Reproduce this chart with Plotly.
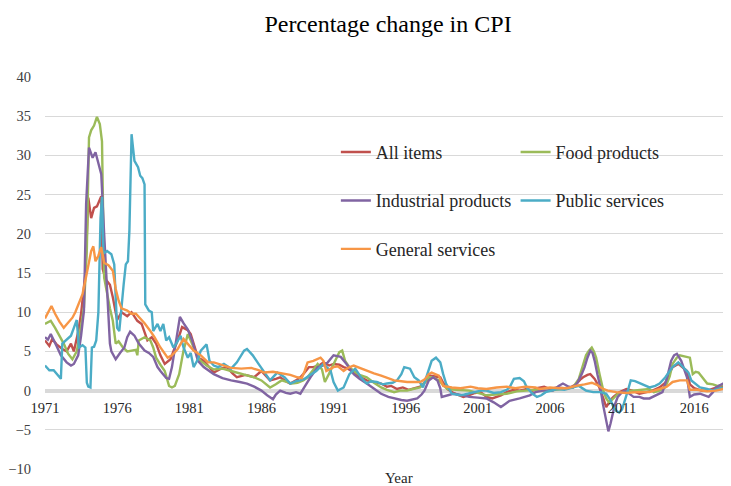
import plotly.graph_objects as go

# ---------------- data (decimal year, % change) ----------------
all_items_t = [1971.0, 1971.3, 1971.5, 1971.8, 1972.2, 1972.5, 1972.8, 1973.0, 1973.3, 1973.5, 1973.8, 1974.0, 1974.2, 1974.4, 1974.6, 1974.9, 1975.0, 1975.2, 1975.5, 1975.7, 1976.0, 1976.3, 1976.7, 1977.0, 1977.4, 1977.7, 1978.1, 1978.4, 1978.7, 1979.0, 1979.3, 1979.7, 1980.0, 1980.2, 1980.5, 1980.9, 1981.1, 1981.3, 1981.6, 1982.0, 1982.4, 1982.7, 1983.2, 1983.6, 1984.0, 1984.3, 1984.9, 1985.5, 1986.0, 1986.3, 1986.6, 1987.0, 1987.3, 1987.7, 1988.0, 1988.4, 1988.7, 1989.0, 1989.3, 1989.6, 1990.0, 1990.3, 1990.7, 1991.0, 1991.4, 1991.7, 1992.0, 1992.4, 1992.8, 1993.3, 1993.8, 1994.3, 1994.7, 1995.0, 1995.4, 1995.8, 1996.2, 1996.6, 1997.0, 1997.3, 1997.6, 1997.7, 1998.0, 1998.4, 1998.6, 1998.9, 1999.3, 1999.6, 2000.0, 2000.5, 2000.8, 2001.2, 2001.6, 2002.0, 2002.6, 2003.0, 2003.5, 2003.9, 2004.4, 2004.8, 2005.1, 2005.6, 2006.0, 2006.5, 2007.0, 2007.4, 2007.8, 2008.1, 2008.3, 2008.6, 2008.8, 2009.1, 2009.4, 2009.7, 2009.9, 2010.2, 2010.4, 2010.8, 2011.3, 2011.7, 2012.2, 2012.7, 2013.1, 2013.6, 2014.0, 2014.3, 2014.5, 2014.9, 2015.2, 2015.5, 2015.7, 2016.0, 2016.5, 2016.9, 2017.4, 2017.9, 2018.3, 2018.55]
all_items_v = [6.4, 5.7, 6.6, 5.9, 5.3, 5.0, 6.0, 5.0, 7.5, 9.8, 15.0, 24.6, 22.0, 23.3, 23.5, 24.8, 15.5, 14.2, 13.5, 11.9, 9.0, 10.0, 9.5, 10.0, 8.9, 8.5, 6.4, 6.8, 6.0, 4.5, 3.4, 4.0, 5.5, 6.4, 8.1, 7.7, 7.2, 6.0, 4.2, 3.8, 3.0, 2.3, 2.8, 3.0, 2.2, 1.7, 2.0, 1.7, 2.5, 1.9, 1.3, 1.5, 1.7, 1.2, 0.9, 1.3, 1.7, 2.3, 3.0, 3.0, 3.2, 3.6, 3.2, 3.4, 3.3, 3.0, 2.8, 2.3, 1.8, 1.3, 1.1, 0.9, 0.5, 0.6, 0.2, 0.4, 0.1, 0.3, 0.5, 1.0, 1.5, 1.9, 1.8, 1.7, 1.0, 0.2, -0.3, -0.5, -0.8, -0.5, -0.3, -0.2, -0.8, -1.0, -0.6, -0.2, 0.1, 0.0, 0.2, 0.0, 0.3, 0.5, 0.2, 0.4, 0.3, 0.4, 0.8, 1.4, 1.7, 2.0, 2.1, 1.5, 0.5, -1.0, -2.1, -1.2, -0.8, -0.2, 0.2, 0.0, -0.4, -0.2, 0.0, 0.4, 1.0, 2.3, 3.0, 3.4, 2.9, 2.5, 0.8, 0.3, 0.0, 0.0, 0.3, 0.5, 0.9, 1.1]

food_t = [1971.0, 1971.2, 1971.4, 1971.7, 1972.0, 1972.3, 1972.6, 1972.9, 1973.2, 1973.4, 1973.7, 1973.9, 1974.05, 1974.2, 1974.4, 1974.6, 1974.8, 1974.95, 1975.1, 1975.3, 1975.5, 1975.7, 1975.9, 1976.1, 1976.4, 1976.7, 1977.0, 1977.3, 1977.4, 1977.5, 1977.9, 1978.3, 1978.5, 1978.7, 1979.0, 1979.3, 1979.6, 1979.8, 1980.0, 1980.3, 1980.6, 1980.9, 1981.1, 1981.3, 1981.6, 1981.8, 1982.2, 1982.7, 1983.3, 1983.9, 1984.5, 1985.0, 1985.5, 1986.0, 1986.3, 1986.6, 1987.0, 1987.4, 1987.8, 1988.1, 1988.5, 1988.9, 1989.2, 1989.5, 1989.9, 1990.2, 1990.4, 1990.7, 1991.0, 1991.2, 1991.4, 1991.6, 1991.8, 1992.1, 1992.4, 1992.8, 1993.3, 1993.8, 1994.3, 1994.7, 1995.2, 1995.6, 1996.1, 1996.5, 1997.0, 1997.3, 1997.6, 1997.9, 1998.3, 1998.6, 1998.9, 1999.5, 2000.0, 2000.4, 2001.0, 2001.6, 2002.2, 2003.0, 2003.7, 2004.4, 2005.0, 2005.5, 2006.0, 2006.8, 2007.3, 2007.6, 2008.0, 2008.3, 2008.5, 2008.7, 2008.9, 2009.05, 2009.2, 2009.45, 2009.7, 2009.9, 2010.1, 2010.4, 2010.7, 2011.2, 2011.8, 2012.4, 2012.9, 2013.2, 2013.6, 2014.0, 2014.3, 2014.5, 2014.8, 2015.0, 2015.4, 2015.7, 2015.9, 2016.1, 2016.3, 2016.6, 2016.9, 2017.3, 2017.6, 2018.0, 2018.55]
food_v = [8.5, 8.7, 8.9, 8.0, 7.0, 6.0, 4.7, 4.0, 5.0, 7.0, 10.6, 18.0, 32.3, 33.2, 33.8, 34.9, 34.0, 31.8, 14.4, 12.3, 10.5, 8.9, 6.0, 6.3, 5.5, 5.0, 5.1, 5.2, 4.5, 6.4, 6.8, 6.4, 5.5, 4.2, 3.3, 2.5, 0.6, 0.4, 0.6, 2.1, 5.1, 7.2, 6.4, 5.5, 4.2, 3.8, 3.2, 2.7, 2.8, 2.5, 2.2, 1.9, 1.7, 1.3, 0.9, 0.4, 0.8, 1.3, 1.1, 0.9, 1.0, 1.3, 1.7, 2.5, 3.4, 2.7, 1.1, 2.2, 3.4, 4.3, 4.9, 5.1, 3.8, 3.0, 2.5, 2.0, 1.7, 1.0, 0.4, 0.1, -0.2, 0.0, 0.0, 0.2, 0.4, 1.0, 1.7, 1.7, 1.3, 0.7, 0.2, 0.1, 0.0, 0.0, -0.3, -0.6, -0.5, -0.4, -0.1, 0.0, 0.1, 0.0, 0.0, 0.2, 0.3, 0.4, 1.5, 3.4, 4.5, 5.1, 5.5, 5.0, 4.2, 2.0, 0.0, -1.0, -1.5, -1.0, -0.4, -0.1, 0.0, 0.1, 0.2, -0.2, 0.0, 0.4, 1.8, 3.4, 4.2, 4.5, 4.3, 4.2, 2.1, 2.4, 2.3, 1.6, 0.9, 0.8, 0.6, 0.7, 0.8]

industrial_t = [1971.0, 1971.2, 1971.4, 1971.6, 1971.8, 1972.1, 1972.5, 1972.8, 1973.0, 1973.3, 1973.5, 1973.7, 1973.85, 1974.05, 1974.3, 1974.5, 1974.7, 1974.9, 1975.1, 1975.3, 1975.5, 1975.6, 1975.9, 1976.2, 1976.5, 1976.7, 1976.9, 1977.2, 1977.5, 1977.9, 1978.2, 1978.5, 1978.8, 1979.0, 1979.4, 1979.6, 1979.8, 1980.1, 1980.35, 1980.6, 1980.9, 1981.2, 1981.6, 1982.0, 1982.7, 1983.3, 1983.9, 1984.5, 1985.0, 1985.5, 1986.0, 1986.4, 1986.8, 1987.0, 1987.3, 1987.7, 1988.0, 1988.4, 1988.7, 1989.0, 1989.4, 1989.9, 1990.3, 1990.6, 1991.0, 1991.5, 1991.9, 1992.4, 1992.8, 1993.3, 1993.8, 1994.3, 1994.8, 1995.2, 1995.7, 1996.1, 1996.5, 1996.8, 1997.1, 1997.3, 1997.6, 1997.9, 1998.2, 1998.4, 1998.5, 1998.9, 1999.3, 2000.0, 2000.4, 2001.0, 2001.6, 2002.1, 2002.6, 2002.9, 2003.2, 2003.9, 2004.6, 2005.0, 2005.5, 2006.2, 2006.6, 2006.9, 2007.3, 2007.6, 2007.9, 2008.2, 2008.4, 2008.6, 2008.8, 2008.95, 2009.1, 2009.3, 2009.5, 2009.65, 2009.8, 2009.95, 2010.05, 2010.2, 2010.35, 2010.5, 2010.7, 2011.0, 2011.2, 2011.5, 2011.8, 2012.2, 2012.5, 2012.9, 2013.3, 2013.8, 2014.1, 2014.4, 2014.6, 2014.8, 2015.1, 2015.3, 2015.5, 2015.7, 2016.0, 2016.4, 2016.7, 2017.0, 2017.3, 2017.5, 2018.0, 2018.55]
industrial_v = [6.8, 6.5, 7.2, 6.5, 5.7, 4.5, 3.6, 3.2, 3.4, 4.5, 7.0, 10.2, 23.8, 31.0, 29.7, 30.4, 29.0, 27.6, 20.0, 12.0, 6.0, 5.0, 4.0, 4.8, 5.5, 6.8, 7.5, 7.0, 6.0, 5.1, 4.8, 4.3, 3.0, 2.5, 1.6, 1.5, 3.0, 6.5, 9.4, 8.6, 7.8, 6.4, 3.8, 3.0, 2.1, 1.6, 1.3, 1.1, 0.9, 0.5, 0.0, -0.6, -1.1, -0.5, 0.0, -0.3, -0.4, -0.2, -0.4, 0.5, 1.7, 3.0, 3.2, 3.6, 4.5, 4.3, 3.4, 2.1, 1.5, 0.9, 0.2, -0.4, -0.8, -1.0, -1.2, -1.3, -1.1, -1.0, -0.5, 0.0, 1.3, 1.7, 1.3, 0.3, -0.8, -0.6, -0.4, -0.6, -0.8, -0.9, -1.0, -1.5, -2.1, -1.7, -1.3, -1.0, -0.6, -0.2, 0.0, 0.0, 0.6, 0.9, 0.5, 0.4, 1.0, 2.1, 3.0, 4.2, 5.1, 4.8, 3.8, 2.0, 0.4, -1.5, -3.0, -4.5, -5.2, -4.2, -3.0, -1.8, -0.8, -0.2, 0.0, -0.4, -0.8, -0.8, -1.0, -1.0, -0.6, -0.2, 1.5, 3.8, 4.5, 4.7, 3.8, 2.8, 1.7, -0.8, -0.5, -0.4, -0.6, -0.8, -0.2, 0.4, 0.9, 1.3]

public_t = [1971.0, 1971.3, 1971.6, 1971.9, 1972.0, 1972.1, 1972.2, 1972.5, 1972.8, 1973.0, 1973.2, 1973.35, 1973.6, 1973.8, 1973.9, 1974.0, 1974.15, 1974.25, 1974.4, 1974.55, 1974.7, 1974.85, 1974.95, 1975.05, 1975.3, 1975.6, 1975.8, 1975.9, 1976.0, 1976.15, 1976.3, 1976.45, 1976.6, 1976.75, 1976.85, 1977.0, 1977.1, 1977.2, 1977.45, 1977.6, 1977.75, 1977.9, 1977.95, 1978.2, 1978.4, 1978.5, 1978.8, 1979.0, 1979.2, 1979.4, 1979.6, 1979.9, 1980.1, 1980.4, 1980.6, 1980.9, 1981.1, 1981.3, 1981.6, 1981.8, 1982.2, 1982.4, 1982.7, 1983.0, 1983.4, 1983.9, 1984.3, 1984.6, 1984.8, 1985.0, 1985.4, 1985.8, 1986.2, 1986.6, 1987.1, 1987.6, 1988.0, 1988.4, 1988.7, 1989.0, 1989.3, 1989.8, 1990.3, 1990.8, 1991.0, 1991.3, 1991.7, 1992.1, 1992.5, 1992.9, 1993.3, 1993.6, 1994.0, 1994.4, 1994.7, 1995.1, 1995.4, 1995.7, 1995.9, 1996.3, 1996.6, 1996.9, 1997.2, 1997.4, 1997.6, 1997.8, 1998.1, 1998.4, 1998.6, 1998.8, 1999.2, 1999.8, 2000.3, 2000.7, 2001.2, 2001.6, 2002.1, 2002.6, 2003.0, 2003.2, 2003.5, 2003.9, 2004.2, 2004.4, 2004.8, 2005.1, 2005.4, 2005.7, 2006.1, 2006.5, 2007.0, 2007.6, 2008.0, 2008.5, 2009.0, 2009.5, 2009.9, 2010.2, 2010.4, 2010.6, 2010.8, 2011.0, 2011.2, 2011.4, 2011.6, 2011.9, 2012.3, 2012.9, 2013.3, 2013.6, 2014.0, 2014.3, 2014.5, 2014.9, 2015.2, 2015.6, 2015.8, 2016.1, 2016.4, 2016.9, 2017.3, 2017.8, 2018.3, 2018.55]
public_v = [3.2, 2.6, 2.6, 2.0, 1.7, 1.5, 6.0, 6.5, 7.0, 8.0, 9.0, 5.5, 5.8, 5.5, 1.0, 0.5, 0.4, 5.5, 5.6, 6.4, 10.0, 22.0, 24.7, 17.5, 17.8, 17.4, 16.1, 11.9, 8.0, 7.6, 11.0, 13.5, 16.1, 16.5, 20.4, 32.7, 31.0, 29.3, 28.5, 27.4, 27.1, 26.3, 11.0, 10.2, 10.0, 7.6, 8.5, 7.6, 8.5, 6.4, 6.8, 5.5, 6.0, 7.0, 5.5, 4.2, 4.8, 3.0, 4.0, 5.1, 5.9, 3.8, 3.2, 3.0, 3.4, 2.8, 3.6, 4.5, 5.1, 5.3, 4.5, 3.4, 2.3, 1.3, 2.3, 1.7, 0.9, 1.2, 1.3, 1.5, 1.9, 2.5, 3.4, 2.5, 1.1, 0.0, 0.4, 2.1, 2.8, 1.7, 0.9, 1.2, 1.1, 0.8, 0.9, 1.0, 1.3, 2.1, 3.0, 2.8, 1.7, 1.3, 0.4, 1.5, 2.5, 3.8, 4.2, 3.6, 2.1, 0.9, -0.4, -0.6, -0.4, -0.2, 0.0, 0.0, -0.3, -0.2, 0.1, 0.4, 1.5, 1.6, 1.2, 0.4, -0.4, -0.8, -0.6, -0.2, 0.0, 0.2, 0.1, 0.4, 0.6, 0.0, -0.2, -0.2, -0.4, -1.2, -2.1, -2.6, -2.8, -2.4, -1.3, 0.0, 1.3, 1.2, 0.9, 0.4, 0.6, 0.9, 1.7, 2.4, 3.0, 3.6, 3.0, 2.3, 1.3, 0.8, 0.4, 0.2, 0.0, 0.3, 0.4, 0.6]

general_t = [1971.0, 1971.2, 1971.45, 1971.7, 1972.0, 1972.3, 1972.6, 1972.9, 1973.1, 1973.4, 1973.6, 1973.9, 1974.2, 1974.35, 1974.5, 1974.7, 1974.9, 1975.1, 1975.4, 1975.7, 1975.9, 1976.1, 1976.3, 1976.7, 1977.0, 1977.3, 1977.6, 1977.9, 1978.3, 1978.6, 1979.0, 1979.3, 1979.5, 1979.8, 1980.2, 1980.6, 1980.9, 1981.3, 1981.8, 1982.3, 1982.7, 1983.3, 1983.9, 1984.6, 1985.3, 1985.8, 1986.2, 1986.8, 1987.3, 1988.0, 1988.5, 1988.8, 1989.0, 1989.2, 1989.6, 1990.1, 1990.3, 1990.5, 1991.0, 1991.3, 1991.7, 1992.0, 1992.4, 1992.8, 1993.3, 1993.8, 1994.3, 1994.8, 1995.2, 1995.7, 1996.1, 1996.6, 1997.0, 1997.3, 1997.6, 1997.8, 1998.1, 1998.3, 1998.6, 1999.2, 1999.8, 2000.5, 2001.0, 2001.6, 2002.3, 2003.0, 2003.6, 2004.3, 2005.0, 2005.3, 2006.0, 2006.6, 2007.2, 2007.8, 2008.4, 2008.9, 2009.3, 2009.6, 2010.0, 2010.6, 2011.3, 2012.0, 2012.9, 2013.6, 2014.1, 2014.5, 2015.0, 2015.5, 2015.7, 2016.2, 2016.9, 2017.5, 2018.0, 2018.55]
general_v = [9.2, 10.0, 10.8, 9.8, 8.8, 8.0, 8.6, 9.3, 10.0, 11.5, 12.3, 15.0, 17.8, 18.4, 16.5, 17.2, 18.3, 16.3, 16.0, 15.3, 13.0, 11.5, 10.5, 10.2, 9.8, 9.8, 9.2, 8.6, 7.6, 6.8, 5.5, 4.7, 4.2, 4.5, 5.3, 6.6, 6.0, 5.1, 4.5, 3.6, 3.6, 3.2, 2.9, 2.8, 2.9, 2.6, 2.3, 2.4, 2.2, 2.0, 1.7, 1.6, 2.5, 3.6, 3.8, 4.2, 3.8, 2.5, 3.0, 3.1, 2.5, 2.9, 3.2, 2.9, 2.5, 2.2, 1.9, 1.6, 1.3, 1.2, 1.1, 1.1, 1.1, 1.4, 2.1, 2.3, 2.1, 1.9, 0.6, 0.4, 0.3, 0.5, 0.3, 0.2, 0.4, 0.5, 0.3, 0.5, 0.4, 0.2, 0.4, 0.3, 0.3, 0.6, 0.8, 1.0, 0.7, 0.3, 0.0, -0.2, -0.3, -0.2, -0.2, 0.2, 0.5, 1.1, 1.3, 1.3, 0.1, 0.1, -0.1, 0.0, 0.2, 0.3]

series_names = ["All items", "Food products", "Industrial products", "Public services", "General services"]
series_colors = ["#c0504d", "#9bbb59", "#8064a2", "#4bacc6", "#f79646"]
series_legends = ["legend", "legend2", "legend", "legend2", "legend"]

year_ticks = [1971, 1976, 1981, 1986, 1991, 1996, 2001, 2006, 2011, 2016]
y_ticks = [-10, -5, 0, 5, 10, 15, 20, 25, 30, 35, 40]

series_t = [all_items_t, food_t, industrial_t, public_t, general_t]
series_v = [all_items_v, food_v, industrial_v, public_v, general_v]

FONT = "Liberation Serif"

fig = go.Figure()
for name, col, lg, t, v in zip(series_names, series_colors, series_legends, series_t, series_v):
    fig.add_trace(go.Scatter(
        x=t, y=v, name=name, mode="lines",
        line=dict(color=col, width=2.4),
        legend=lg, legendgroup=name,
    ))

legend_common = dict(
    font=dict(family=FONT, size=18, color="#262626"),
    bgcolor="rgba(0,0,0,0)",
    tracegroupgap=22,
    xanchor="left", yanchor="top",
    itemwidth=30,
)

fig.update_layout(
    width=731, height=486,
    margin=dict(l=37, r=8, t=69, b=25, autoexpand=False),
    paper_bgcolor="white", plot_bgcolor="white",
    font=dict(family=FONT, size=14, color="#404040"),
    title=dict(text="Percentage change in CPI", font=dict(family=FONT, size=24, color="#000000"),
               x=0.5, xref="paper", xanchor="center", y=1 - 16 / 486, yref="container", yanchor="middle"),
    legend=dict(x=0.424, y=0.855, **legend_common),
    legend2=dict(x=0.686, y=0.855, **legend_common),
    xaxis=dict(
        range=[1971, 2018.55], automargin=False,
        tickvals=year_ticks, ticktext=[str(y) for y in year_ticks],
        showgrid=False, zeroline=False, showline=False, ticks="",
        anchor="free", position=0.2, ticklabelstandoff=7,
        tickfont=dict(family=FONT, size=14.5, color="#262626"),
    ),
    yaxis=dict(
        range=[-10, 40], tickvals=y_ticks, automargin=False,
        showgrid=True, gridcolor="#d9d9d9", gridwidth=1,
        zeroline=True, zerolinecolor="#d9d9d9", zerolinewidth=4,
        showline=False, ticks="", ticklabelstandoff=13,
        tickfont=dict(family=FONT, size=14.5, color="#404040"),
    ),
    annotations=[dict(text="Year", xref="paper", yref="paper", x=0.516, y=-0.023,
                      xanchor="center", yanchor="middle", showarrow=False,
                      font=dict(family=FONT, size=15, color="#262626"))],
    showlegend=True,
)

fig.write_html("out.html")
